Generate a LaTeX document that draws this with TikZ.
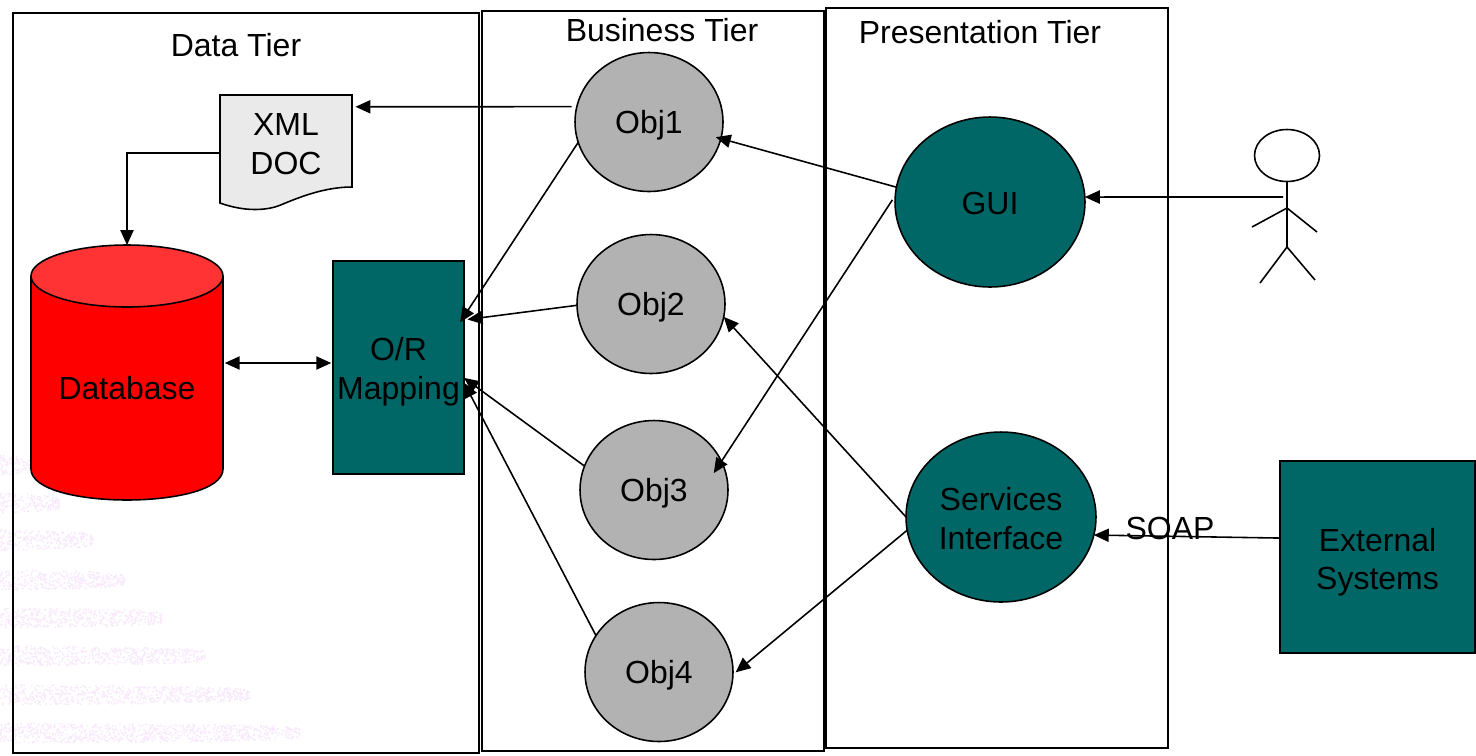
\documentclass[tikz,border=0pt]{standalone}
\usepackage{fontspec}
\setmainfont{Liberation Sans}
\usetikzlibrary{arrows.meta,shapes.geometric}
\definecolor{tealbox}{HTML}{006666}
\definecolor{objgrey}{HTML}{B2B2B2}
\definecolor{docgrey}{HTML}{EAEAEA}
\definecolor{dbtop}{HTML}{FF3333}
\definecolor{speck}{HTML}{F7E8FB}
\newcommand{\padtop}[1]{\rule{0pt}{#1}}
\tikzset{
    every node/.style={font=\fontsize{18.2}{22}\selectfont,align=center,outer sep=0pt,inner sep=0pt},
    tier/.style={draw,line width=1.1pt},
    obj/.style={draw,ellipse,fill=objgrey,line width=0.9pt,minimum width=2.96cm,minimum height=2.78cm},
    face/.style={draw,ellipse,fill=tealbox,line width=0.9pt,minimum width=3.8cm,minimum height=3.4cm},
    tealrect/.style={draw,rectangle,fill=tealbox,line width=0.9pt},
    arr/.style={-{Triangle[length=8.5pt,width=7.5pt]},line width=0.9pt},
    biarr/.style={{Triangle[length=8.5pt,width=7.5pt]}-{Triangle[length=8.5pt,width=7.5pt]},line width=0.9pt},
    limb/.style={line width=0.9pt}
}

\begin{document}
\begin{tikzpicture}[x=0.02cm,y=-0.02cm]
    \useasboundingbox (0,0) rectangle (1476,755);

    % faint stripes behind the data tier
    \pgfmathsetseed{42}
    \foreach \yy/\xx in {465/30,503/60,540/93,580/125,618/163,656/205,695/250,733/300} {
        \pgfmathtruncatemacro{\nn}{\xx*3}
        \foreach \i in {1,...,\nn} {
            \pgfmathsetmacro{\px}{\xx*rnd}
            \pgfmathsetmacro{\py}{\yy+20*(rnd-0.5)*(1-\px/\xx)^0.15}
            \fill[speck] (\px,\py) circle (1);
        }
    }

    % tiers
    \draw[tier] (13,13) rectangle (479,753);
    \draw[tier] (482,11) rectangle (824,751);
    \draw[tier] (826,8) rectangle (1168,748);
    \node (datatitle) at (236,45) {Data Tier};
    \node (businesstitle) at (662,30) {Business Tier};
    \node (presentationtitle) at (980,32) {Presentation Tier};

    % data tier
    \filldraw[fill=docgrey,line width=0.9pt] (220,95) -- (352,95) -- (352,187)
        .. controls (325,187) and (300,197) .. (283,204)
        .. controls (268,211) and (245,212) .. (220,203) -- cycle;
    \node[minimum width=2.64cm,minimum height=2.32cm] (xmldoc) at (286,153) {XML\\DOC\rule[-10.2pt]{0pt}{0pt}};
    \filldraw[fill=red,line width=0.9pt] (31,276) -- (31,469)
        .. controls (31,510.3) and (223,510.3) .. (223,469) -- (223,276);
    \filldraw[fill=dbtop,line width=0.9pt] (127,276) ellipse (96 and 31);
    \node[minimum width=3.84cm,minimum height=5.1cm] (database) at (127,372.5) {\padtop{30.9pt}Database};
    \node[tealrect,minimum width=2.62cm,minimum height=4.26cm] (mapping) at (398.5,367.5) {\padtop{17.9pt}O/R\\Mapping};

    % business tier
    \node[obj] (obj1) at (649,122) {\padtop{16.7pt}Obj1};
    \node[obj] (obj2) at (651,304) {\padtop{16.7pt}Obj2};
    \node[obj] (obj3) at (654,490) {\padtop{16.7pt}Obj3};
    \node[obj] (obj4) at (659,672) {\padtop{16.7pt}Obj4};

    % presentation tier
    \node[face] (gui) at (990,202) {\padtop{14.5pt}GUI};
    \node[face] (services) at (1001,517) {\padtop{15pt}Services\\Interface};

    % outside
    \node[tealrect,minimum width=3.9cm,minimum height=3.84cm] (external) at (1377.5,557) {\padtop{19pt}External\\Systems};
    \node (soap) at (1170,528) {SOAP};
    \node[draw,ellipse,line width=0.9pt,minimum width=1.3cm,minimum height=1.04cm] (head) at (1287,155.5) {};
    \coordinate (neck) at (1287,208);
    \coordinate (hip) at (1287,247);
    \coordinate (actor) at (1283,197);
    \coordinate (dbline) at (0,363);
    \draw[limb] (head.south) -- (hip);
    \draw[limb] (1252,227) -- (neck) -- (1317,232);
    \draw[limb] (1260,283) -- (hip) -- (1315,280);

    % connectors
    \draw[arr,shorten <=3pt,shorten >=2pt] (obj1.168) -- (xmldoc.35);
    \draw[arr] (xmldoc.west) -| (database.north);
    \draw[biarr,shorten <=1pt,shorten >=1pt] (database.east |- dbline) -- (mapping.west |- dbline);
    \draw[arr,shorten >=-4pt] (obj1.196) -- (mapping.38);
    \draw[arr,shorten >=2pt] (obj2.181) -- (mapping.36);
    \draw[arr] (obj3.161) -- (mapping.351);
    \draw[arr] (obj4.150) -- (mapping.347);
    \draw[arr,shorten >=-3pt] (gui.171) -- (obj1.347);
    \draw[arr,shorten <=3pt,shorten >=-8pt] (gui.176) -- (obj3.23);
    \draw[arr] (services.180) -- (obj2.350);
    \draw[arr,shorten >=2pt] (services.188) -- (obj4.358);
    \draw[arr] (actor) -- (gui.3);
    \draw[arr] (external.169) -- (services.349);
\end{tikzpicture}
\end{document}
